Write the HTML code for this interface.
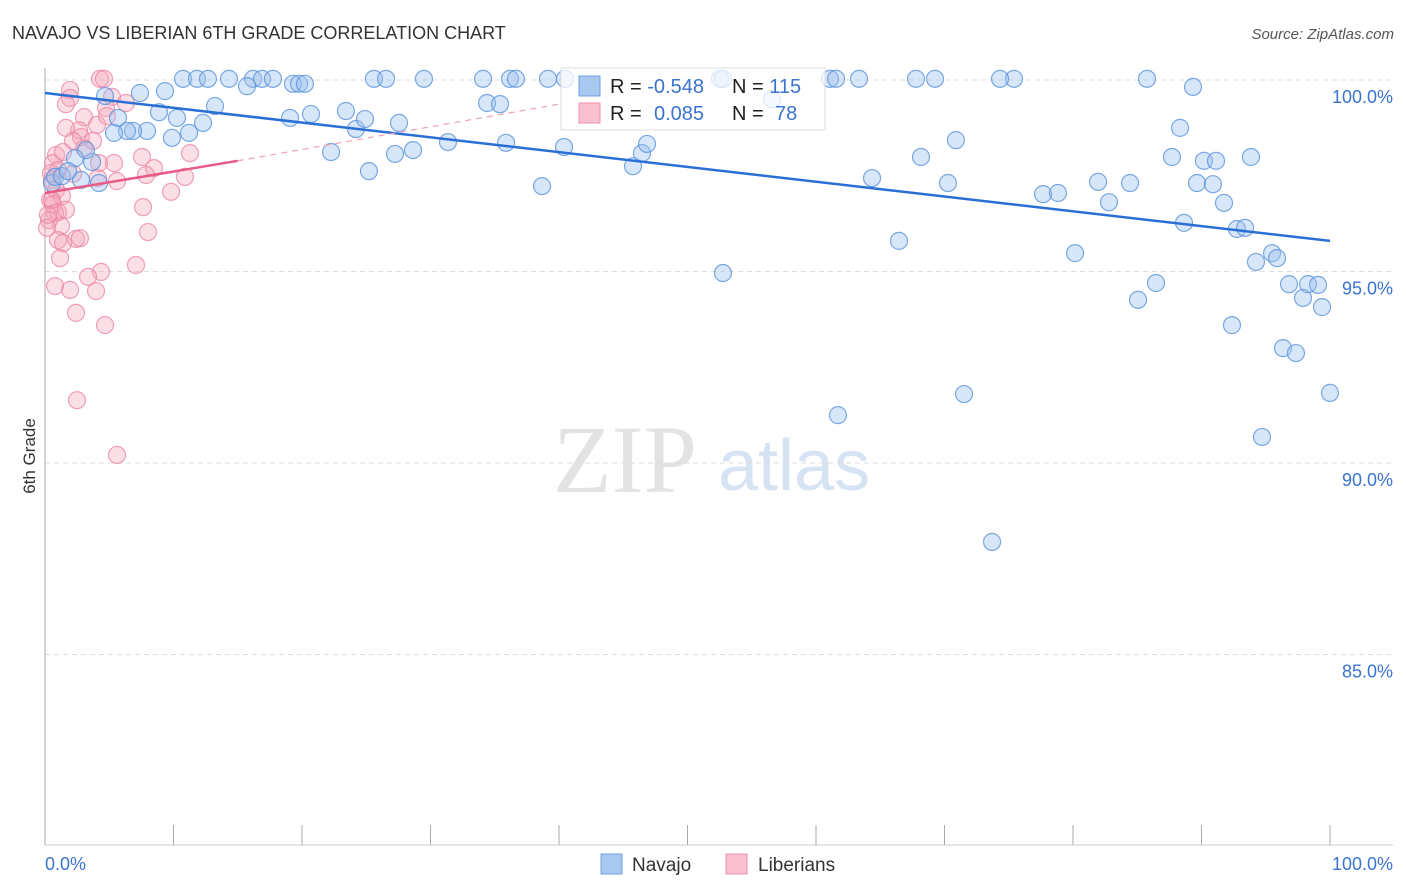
<!DOCTYPE html>
<html><head><meta charset="utf-8"><style>
body{margin:0;background:#fff;font-family:"Liberation Sans",sans-serif}
svg{display:block}
</style></head><body>
<svg id="chart" width="1406" height="892" xmlns="http://www.w3.org/2000/svg">
<text x="12" y="39" font-size="18" fill="#333">NAVAJO VS LIBERIAN 6TH GRADE CORRELATION CHART</text>
<text x="1394" y="39" font-size="15" fill="#555" font-style="italic" text-anchor="end">Source: ZipAtlas.com</text>
<text x="35" y="456" font-size="17" fill="#333" text-anchor="middle" transform="rotate(-90 35 456)">6th Grade</text>
<g>
<text x="553" y="492" font-size="96" font-family="Liberation Serif,serif" fill="#e3e3e3">ZIP</text>
<text x="718" y="490" font-size="72" fill="#d5e3f3">atlas</text>
</g>
<g id="grid"></g>
<g id="pts"></g>
<g id="lines"></g>
<g>
<rect x="561" y="68" width="264" height="62" fill="#fff" fill-opacity="0.75" stroke="#ddd"/>
<rect x="579" y="76" width="21" height="20" fill="#a9c8f0" stroke="#6b9fe0"/>
<rect x="579" y="103" width="21" height="20" fill="#f8c0d0" stroke="#ef8fab"/>
<text x="610" y="93" font-size="20" fill="#222">R = <tspan fill="#3a73d0">-0.548</tspan></text>
<text x="732" y="93" font-size="20" fill="#222">N = <tspan fill="#3a73d0">115</tspan></text>
<text x="610" y="120" font-size="20" fill="#222">R = <tspan fill="#3a73d0" x="654">0.085</tspan></text>
<text x="732" y="120" font-size="20" fill="#222">N = <tspan fill="#3a73d0" x="775">78</tspan></text>
</g>
<g>
<rect x="601" y="854" width="21" height="20" fill="#a9c8f0" stroke="#6b9fe0"/>
<text x="632" y="871" font-size="19" fill="#333">Navajo</text>
<rect x="726" y="854" width="21" height="20" fill="#f8c0d0" stroke="#ef8fab"/>
<text x="758" y="871" font-size="19" fill="#333">Liberians</text>
</g>
<text x="45" y="870" font-size="18" fill="#3a73d0">0.0%</text>
<text x="1393" y="870" font-size="18" fill="#3a73d0" text-anchor="end">100.0%</text>
</svg>
<script>
const yTicks=[100,95,90,85];
const xTicks=[0,10,20,30,40,50,60,70,80,90,100];
const navajoPx=[[165,91],[183,79],[197,79],[208,79],[229,79],[253,79],[262,79],[273,79],[247,86],[293,84],[299,84],[305,84],[374,79],[386,79],[424,79],[483,79],[510,79],[516,79],[548,79],[565,79],[720,79],[830,79],[836,79],[859,79],[916,79],[935,79],[1014,79],[1147,79],[1193,87],[140,93],[105,96],[159,112],[177,118],[215,106],[203,123],[189,133],[172,138],[147,131],[133,131],[127,131],[114,133],[118,118],[92,162],[86,150],[75,158],[81,180],[99,183],[290,118],[311,114],[346,111],[356,129],[365,119],[399,123],[331,152],[369,171],[395,154],[413,150],[448,142],[487,103],[500,104],[506,143],[542,186],[564,147],[633,166],[642,153],[647,144],[723,273],[772,99],[838,415],[872,178],[899,241],[921,157],[948,183],[956,140],[964,394],[992,542],[1043,194],[1058,193],[1075,253],[1098,182],[1109,202],[1130,183],[1138,300],[1156,283],[1172,157],[1180,128],[1184,223],[1197,183],[1204,161],[1213,184],[1216,161],[1224,203],[1232,325],[1237,229],[1245,228],[1251,157],[1256,262],[1262,437],[1272,253],[1277,258],[1283,348],[1289,284],[1296,353],[1303,298],[1308,284],[1318,285],[1322,307],[1330,393],[52,183],[55,177],[62,176],[68,171],[723,79],[1000,79]];
const libPx=[[70,90],[100,79],[104,79],[70,98],[66,104],[112,97],[126,103],[106,108],[84,117],[79,130],[66,128],[97,125],[81,137],[107,116],[93,141],[84,148],[56,155],[53,163],[63,152],[73,141],[99,163],[114,163],[142,157],[190,153],[154,168],[146,175],[117,181],[185,177],[98,178],[58,170],[52,180],[56,190],[62,196],[50,200],[53,204],[55,213],[58,212],[61,226],[49,220],[47,228],[66,210],[143,207],[148,232],[171,192],[58,240],[63,243],[76,239],[80,238],[60,258],[55,286],[70,290],[101,272],[88,277],[96,291],[76,313],[105,325],[77,400],[117,455],[136,265],[73,174],[51,173],[52,200],[48,215]];
const navajoX=navajoPx.map(p=>+((p[0]-45)/12.85).toFixed(2));
const navajoY=navajoPx.map(p=>+(100-(p[1]-80)/38.3).toFixed(2));
const libX=libPx.map(p=>+((p[0]-45)/12.85).toFixed(2));
const libY=libPx.map(p=>+(100-(p[1]-80)/38.3).toFixed(2));
const navajoTrend=[[0,99.66],[100,95.8]];
const libTrend=[[0,97.05],[15,97.89]];
const libTrendExt=[[15,97.89],[40,99.37]];

const X0=45,X1=1330,YTOP=80,PPU=38.3;
const sx=v=>X0+(X1-X0)*v/100;
const sy=v=>YTOP+(100-v)*PPU;
const NS="http://www.w3.org/2000/svg";
function mk(tag,attrs,parent){const e=document.createElementNS(NS,tag);for(const k in attrs)e.setAttribute(k,attrs[k]);parent.appendChild(e);return e;}
const grid=document.getElementById('grid');
yTicks.forEach(t=>{
 const l=mk('line',{x1:X0,x2:1393,y1:sy(t),y2:sy(t),stroke:'#ddd','stroke-dasharray':'5,4'},grid);
 
 
 const tx=mk('text',{x:1393,y:sy(t)+23,'font-size':18,fill:'#3a73d0','text-anchor':'end'},grid);
 tx.textContent=t.toFixed(1)+'%';
 
 
});
const ax=mk('line',{x1:X0,x2:X0,y1:68,y2:845,stroke:'#aaa'},grid);


const bx=mk('line',{x1:X0,x2:1393,y1:845,y2:845,stroke:'#ccc'},grid);


xTicks.forEach(t=>{
 const l=mk('line',{x1:sx(t),x2:sx(t),y1:825,y2:845,stroke:'#aaa'},grid);
 
 
});
const pts=document.getElementById('pts');
libX.forEach((x,i)=>{
 const c=mk('circle',{cx:sx(x),cy:sy(libY[i]),r:8.5,fill:'#f4a3bb','fill-opacity':0.35,stroke:'#ec88a6','stroke-opacity':0.8,'stroke-width':1.2},pts);
 
 
});
navajoX.forEach((x,i)=>{
 const c=mk('circle',{cx:sx(x),cy:sy(navajoY[i]),r:8.5,fill:'#9cc0ee','fill-opacity':0.4,stroke:'#5d93dc','stroke-opacity':0.8,'stroke-width':1.2},pts);
 
 
});
const lines=document.getElementById('lines');
let l1=mk('line',{x1:sx(navajoTrend[0][0]),y1:sy(navajoTrend[0][1]),x2:sx(navajoTrend[1][0]),y2:sy(navajoTrend[1][1]),stroke:'#2a6fd6','stroke-width':2.5},lines);


let l2=mk('line',{x1:sx(libTrend[0][0]),y1:sy(libTrend[0][1]),x2:sx(libTrend[1][0]),y2:sy(libTrend[1][1]),stroke:'#e85a87','stroke-width':2.5},lines);


let l3=mk('line',{x1:sx(libTrendExt[0][0]),y1:sy(libTrendExt[0][1]),x2:sx(libTrendExt[1][0]),y2:sy(libTrendExt[1][1]),stroke:'#eea0b8','stroke-width':1.2,'stroke-dasharray':'6,5'},lines);


</script>
</body></html>
